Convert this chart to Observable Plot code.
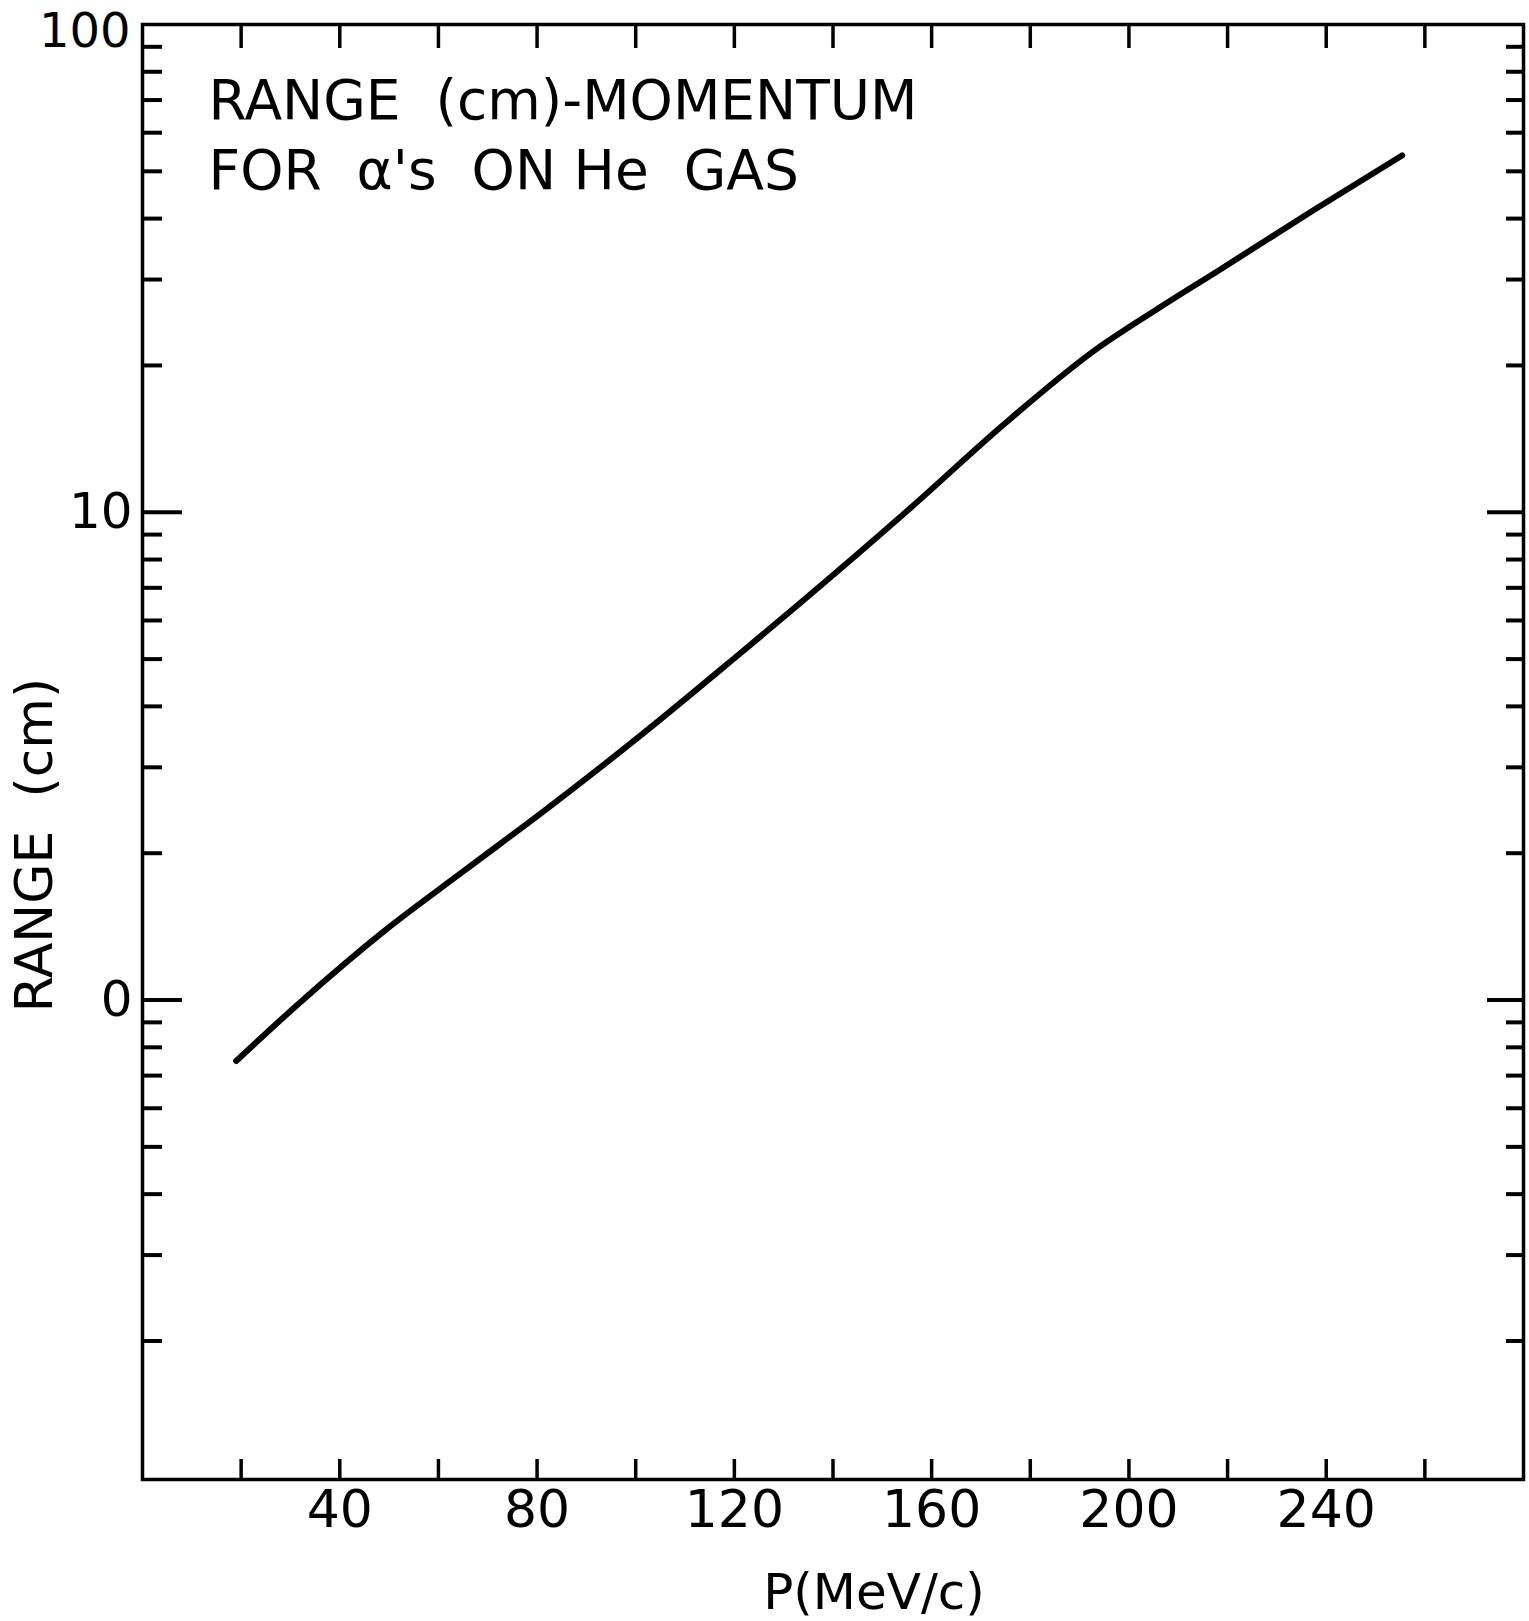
<!DOCTYPE html>
<html>
<head>
<meta charset="utf-8">
<script src="https://cdn.jsdelivr.net/npm/d3@7"></script>
<script src="https://cdn.jsdelivr.net/npm/@observablehq/plot@0.6"></script>
<style>
  html, body { margin: 0; padding: 0; background: #fff; }
  #chart svg { display: block; }
</style>
</head>
<body>
<div id="chart"></div>
<script>
// Range–momentum curve for alpha particles in helium gas
const momentum = [19, 32, 48.8, 65.5, 82.3, 101.2, 120, 138.9, 155.7, 174.5, 193.4, 206, 218.6, 237.4, 255.4]; // MeV/c
const rangeCm  = [0.75, 0.99, 1.38, 1.85, 2.48, 3.50, 5.02, 7.27, 10.2, 15.1, 21.6, 26.2, 31.5, 41.6, 53.9];  // cm

// Axis ticks
const xTicks = [20, 40, 60, 80, 100, 120, 140, 160, 180, 200, 220, 240, 260];
const xLabels = [40, 80, 120, 160, 200, 240];
const yMinor = [0.2, 0.3, 0.4, 0.5, 0.6, 0.7, 0.8, 0.9,
                2, 3, 4, 5, 6, 7, 8, 9,
                20, 30, 40, 50, 60, 70, 80, 90];
const yMajor = [1, 10];
const yLabelValues = [1, 10];
const yLabelText = ["0", "10"];
const yTopValue = [100];
const yTopText = "100";

const titleText = "RANGE\u00a0\u00a0(cm)-MOMENTUM\nFOR\u00a0\u00a0α's\u00a0\u00a0ON\u00a0He\u00a0\u00a0GAS";
const xTitle = "P(MeV/c)";
const yTitle = "RANGE\u00a0\u00a0(cm)";

const points = momentum.map((p, i) => ({p, r: rangeCm[i]}));
const ink = "#000";
const font = "DejaVu Sans";

const chart = Plot.plot({
  width: 1529,
  height: 1621,
  marginLeft: 142,
  marginRight: 6,
  marginTop: 24,
  marginBottom: 142,
  style: {fontFamily: font, color: ink, background: "#fff"},
  x: {domain: [0, 280]},
  y: {type: "log", domain: [0.104, 100]},
  marks: [
    Plot.frame({stroke: ink, strokeWidth: 3.5}),

    // inward ticks, left side
    Plot.axisY(yMinor, {anchor: "left", tickSize: 20, dx: 20, fill: "none", strokeWidth: 4, label: null}),
    Plot.axisY(yMajor, {anchor: "left", tickSize: 40, dx: 40, fill: "none", strokeWidth: 4, label: null}),
    Plot.axisY(yLabelValues, {anchor: "left", tickSize: 0, tickPadding: 10, fontSize: 50,
      tickFormat: d => yLabelText[yLabelValues.indexOf(d)], label: null}),
    Plot.axisY(yTopValue, {anchor: "left", tickSize: 0, tickPadding: 12, fontSize: 48, dy: 7,
      tickFormat: () => yTopText, label: null}),

    // inward ticks, right side
    Plot.axisY(yMinor, {anchor: "right", tickSize: 18, dx: -18, fill: "none", strokeWidth: 4, label: null}),
    Plot.axisY(yMajor, {anchor: "right", tickSize: 37, dx: -37, fill: "none", strokeWidth: 4, label: null}),

    // inward ticks, top and bottom
    Plot.axisX(xTicks, {anchor: "top", tickSize: 23, dy: 23, fill: "none", strokeWidth: 3.5, label: null}),
    Plot.axisX(xTicks, {anchor: "bottom", tickSize: 20, dy: -20, fill: "none", strokeWidth: 3.5, label: null}),
    Plot.axisX(xLabels, {anchor: "bottom", tickSize: 0, tickPadding: 11, fontSize: 52, label: null}),

    // the curve
    Plot.line(points, {x: "p", y: "r", stroke: ink, strokeWidth: 6, curve: "monotone-x",
      strokeLinecap: "round", strokeLinejoin: "round"}),

    // title block inside the frame
    Plot.text([titleText], {frameAnchor: "top-left", textAnchor: "start", lineAnchor: "top",
      dx: 66, dy: 45, fontSize: 55, lineHeight: 1.27, fill: ink}),

    // axis titles
    Plot.text([xTitle], {frameAnchor: "bottom", textAnchor: "middle", lineAnchor: "top",
      dx: 41, dy: 94, fontSize: 50, fill: ink}),
    Plot.text([yTitle], {frameAnchor: "left", textAnchor: "middle", rotate: -90, lineAnchor: "middle",
      dx: -107, dy: 93, fontSize: 52, fill: ink})
  ]
});

document.getElementById("chart").append(chart);
</script>
</body>
</html>
